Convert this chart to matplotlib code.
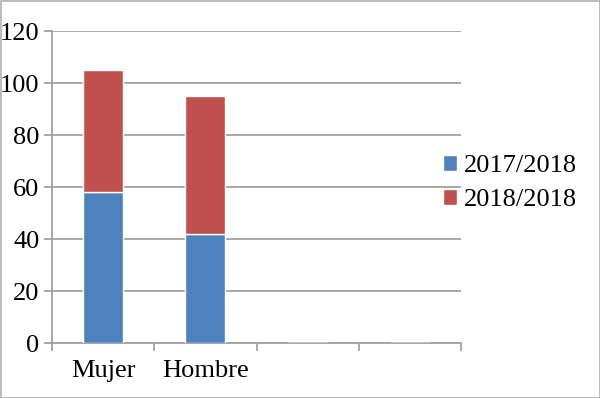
import matplotlib
matplotlib.use("Agg")
import matplotlib.pyplot as plt
from matplotlib.patches import Rectangle

categories = ["Mujer", "Hombre", "", ""]
s2017 = [58, 42, 0, 0]
s2018 = [47, 53, 0, 0]
series_names = ["2017/2018", "2018/2018"]
yticks = [0, 20, 40, 60, 80, 100, 120]

plt.rcParams['font.family'] = ['Liberation Serif', 'DejaVu Serif']
fig = plt.figure(figsize=(6, 3.98), dpi=100)
ax = fig.add_axes([52/600, 1-343/398, (461-52)/600, (343-31)/398])

grid_c = '#a0a0a0'
x = list(range(len(categories)))
b1 = ax.bar(x, s2017, width=0.39, color='#4F81BD', edgecolor='white', linewidth=1, zorder=3, label=series_names[0])
b2 = ax.bar(x, s2018, width=0.39, bottom=s2017, color='#C0504D', edgecolor='white', linewidth=1, zorder=3, label=series_names[1])

ax.set_xlim(-0.5, len(categories)-0.5)
ax.set_ylim(0, 120)
ax.set_yticks(yticks)
ax.yaxis.grid(True, color=grid_c, linewidth=1.3, zorder=0)
ax.set_axisbelow(True)
for s in ['top', 'right']:
    ax.spines[s].set_visible(False)
for s in ['left', 'bottom']:
    ax.spines[s].set_color(grid_c)
    ax.spines[s].set_linewidth(1.3)
    ax.spines[s].set_zorder(2)

ax.set_xticks(x)
ax.set_xticklabels(categories)
ax.tick_params(axis='x', which='major', length=0, pad=12, labelsize=19)
ax.set_xticks([i - 0.5 for i in range(len(categories)+1)], minor=True)
ax.tick_params(axis='x', which='minor', length=6, width=1.3, color=grid_c, direction='out')
ax.tick_params(axis='y', length=6, width=1.3, color=grid_c, direction='out', pad=3, labelsize=19)

leg = fig.legend(handles=[b1, b2], labels=series_names, loc='center left',
                 bbox_to_anchor=(419/600, 1-183/398), frameon=False, fontsize=19,
                 handlelength=0.55, handleheight=0.55, handletextpad=0.25, labelspacing=0.45)

fig.patches.append(Rectangle((0.5/600, 0.5/398), 1-1/600, 1-1/398, transform=fig.transFigure,
                             fill=False, edgecolor='#b0b0b0', linewidth=1.2))
fig.savefig('out.png', dpi=100)
